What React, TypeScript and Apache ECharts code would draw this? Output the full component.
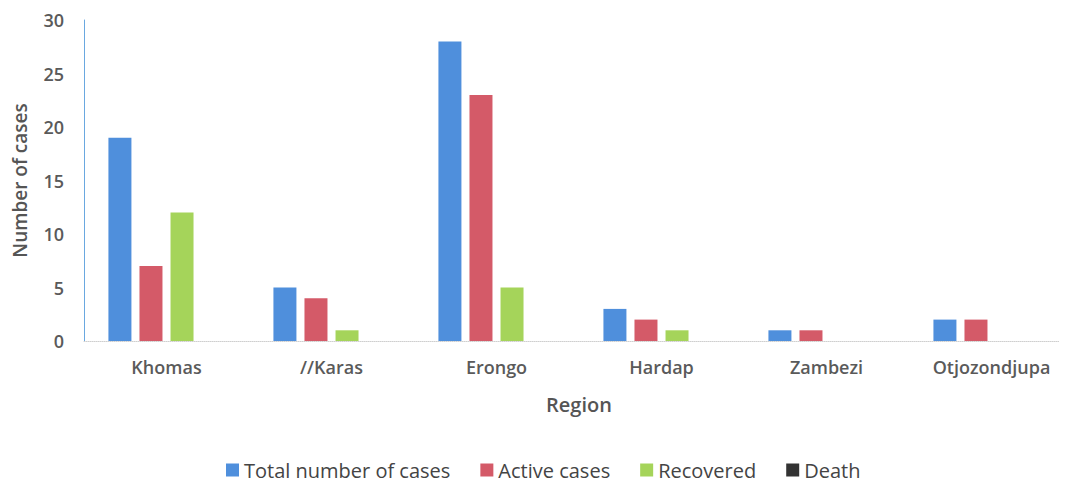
import React, { useEffect, useRef } from "react";
import * as echarts from "echarts";

const regions = ["Khomas", "//Karas", "Erongo", "Hardap", "Zambezi", "Otjozondjupa"];
const totalCases = [19, 5, 28, 3, 1, 2];
const activeCases = [7, 4, 23, 2, 1, 2];
const recovered = [12, 1, 5, 1, 0, 0];
const deaths = [0, 0, 0, 0, 0, 0];
const seriesNames = ["Total number of cases", "Active cases", "Recovered", "Death"];
const colors = ["#4f8fdc", "#d45a68", "#a5d45a", "#333333"];

const FONT = "'Open Sans', 'Liberation Sans', sans-serif";

export default function App() {
  const ref = useRef<HTMLDivElement>(null);
  useEffect(() => {
    if (!ref.current) return;
    const chart = echarts.init(ref.current, undefined, { renderer: "svg" });
    const data = [totalCases, activeCases, recovered, deaths];
    chart.setOption({
      animation: false,
      color: colors,
      grid: { left: 76, width: 990, top: 12, height: 321, outerBoundsMode: "none", containLabel: false },
      legend: {
        top: 447,
        left: 213,
        itemWidth: 13,
        itemHeight: 13,
        itemGap: 30,
        icon: "rect",
        textStyle: { fontFamily: FONT, fontSize: 20, color: "#444" },
        data: seriesNames,
      },
      xAxis: {
        type: "category",
        data: regions,
        name: "Region",
        nameLocation: "middle",
        nameGap: 53,
        nameTextStyle: { fontFamily: FONT, fontSize: 20, fontWeight: 600, color: "#555" },
        axisLine: { lineStyle: { color: "#cfcfcf", type: "dotted" } },
        axisTick: { show: false },
        axisLabel: { fontFamily: FONT, fontSize: 18, fontWeight: 600, color: "#5a5a5a", margin: 17 },
      },
      yAxis: {
        type: "value",
        min: 0,
        max: 30,
        interval: 5,
        name: "Number of cases",
        nameLocation: "middle",
        nameGap: 55,
        nameTextStyle: { fontFamily: FONT, fontSize: 19, fontWeight: 600, color: "#555" },
        axisLine: { show: true, lineStyle: { color: "#6aa8e0", width: 1 } },
        axisTick: { show: false },
        splitLine: { show: false },
        axisLabel: { fontFamily: FONT, fontSize: 18, fontWeight: 600, color: "#5a5a5a", margin: 20 },
      },
      series: seriesNames.map((name, i) => ({
        name,
        type: "bar",
        data: data[i],
        barWidth: 23,
        barGap: "35%",
      })),
    });
    return () => chart.dispose();
  }, []);
  return <div ref={ref} style={{ width: 1059, height: 474 }} />;
}
